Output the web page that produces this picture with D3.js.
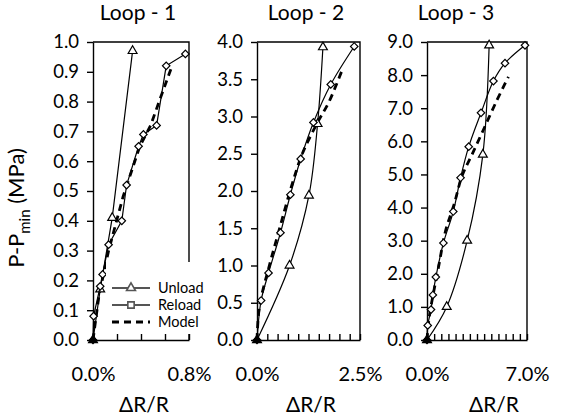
<!DOCTYPE html>
<html>
<head>
<meta charset="utf-8">
<script src="https://cdn.jsdelivr.net/npm/d3@7"></script>
<style>
  body { margin: 0; background: #fff; }
  text { font-family: Lato, "Open Sans", sans-serif; fill: #000; }
</style>
</head>
<body>
<svg id="chart" width="562" height="419"></svg>
<script>
// chart data (x in %, y in MPa)
var loopNames = ["Loop - 1", "Loop - 2", "Loop - 3"];
var xMaxes = [0.8, 2.5, 7.0];
var xSteps = [0.2, 0.25, 0.5];
var yMaxes = [1.0, 4.0, 9.0];
var ySteps = [0.1, 0.5, 1.0];

var unload1 = [[0,0],[0.06,0.17],[0.16,0.41],[0.33,0.97]];
var reload1 = [[0,0],[0.005,0.08],[0.06,0.18],[0.08,0.22],[0.13,0.32],[0.24,0.40],[0.28,0.52],
               [0.38,0.65],[0.42,0.69],[0.53,0.72],[0.61,0.92],[0.77,0.96]];
var model1  = [[0,0],[0.05,0.15],[0.13,0.30],[0.25,0.48],[0.39,0.65],[0.48,0.72],[0.56,0.81],[0.65,0.91]];

var unload2 = [[0,0],[0.79,1.0],[1.26,1.94],[1.47,2.9],[1.60,3.93]];
var reload2 = [[0,0],[0.1,0.53],[0.28,0.9],[0.57,1.44],[0.81,1.95],[1.06,2.43],[1.37,2.92],[1.79,3.43],[2.36,3.94]];
var model2  = [[0,0],[0.06,0.45],[0.3,1.0],[0.55,1.5],[0.83,2.05],[1.1,2.5],[1.45,2.9],[1.75,3.2],[2.05,3.6]];

var unload3 = [[0,0],[1.38,1.0],[2.81,3.0],[3.91,5.6],[4.35,8.9]];
var reload3 = [[0,0],[0.05,0.44],[0.28,0.92],[0.41,1.36],[0.62,1.9],[1.15,2.93],[1.84,3.88],[2.35,4.9],
               [2.92,5.84],[3.78,6.86],[4.65,7.82],[5.46,8.36],[6.86,8.9]];
var model3  = [[0,0],[0.16,0.7],[0.85,2.3],[1.3,3.3],[1.9,4.1],[2.45,4.95],[3.15,5.6],[3.95,6.35],[4.85,7.2],[5.7,7.95]];

var legendLabels = ["Unload", "Reload", "Model"];

var unloads = [unload1, unload2, unload3];
var reloads = [reload1, reload2, reload3];
var models = [model1, model2, model3];

// layout
var plotLeft = [93, 257, 427];
var plotRight = [189, 360, 527];
var plotTop = 42, plotBottom = 340;
var loopTitleX = [138, 306, 456];
var xTitleX = [144, 311, 494];

var svg = d3.select("#chart");
var fmtPct = d3.format(".1%");
var fmtY = d3.format(".1f");

loopNames.forEach(function(name, p) {
  var x = d3.scaleLinear().domain([0, xMaxes[p]]).range([plotLeft[p], plotRight[p]]);
  var y = d3.scaleLinear().domain([0, yMaxes[p]]).range([plotBottom, plotTop]);
  var g = svg.append("g");

  // plot-area border (top + right)
  g.append("path")
    .attr("d", "M" + plotLeft[p] + "," + plotTop + "H" + plotRight[p] + "V" + plotBottom)
    .attr("fill", "none").attr("stroke", "#000").attr("stroke-width", 1.4);

  var yTicks = d3.range(0, yMaxes[p] + ySteps[p] / 2, ySteps[p]);
  var yAxis = g.append("g")
    .attr("transform", "translate(" + plotLeft[p] + ",0)")
    .call(d3.axisLeft(y).tickValues(yTicks).tickSizeInner(6).tickSizeOuter(0)
      .tickPadding(8).tickFormat(fmtY));
  yAxis.selectAll("text").style("font-size", "18.5px");

  var xTicks = d3.range(0, xMaxes[p] + xSteps[p] / 2, xSteps[p]);
  g.append("g")
    .attr("transform", "translate(0," + plotBottom + ")")
    .call(d3.axisBottom(x).tickValues(xTicks).tickSizeInner(-6).tickSizeOuter(0).tickFormat(""));

  var xLab = g.append("g")
    .attr("transform", "translate(0," + plotBottom + ")")
    .call(d3.axisBottom(x).tickValues([0, xMaxes[p]]).tickSize(0).tickPadding(27)
      .tickFormat(function(d) { return fmtPct(d / 100); }));
  xLab.select(".domain").remove();
  xLab.selectAll("text").style("font-size", "20px");

  g.selectAll(".domain, .tick line").attr("stroke", "#000").attr("stroke-width", 1.4);

  g.append("text").attr("x", loopTitleX[p]).attr("y", 20)
    .attr("text-anchor", "middle").style("font-size", "21px").text(name);
  g.append("text").attr("x", xTitleX[p]).attr("y", 412)
    .attr("text-anchor", "middle").style("font-size", "21px").text("\u0394R/R");

  var curve = p === 0 ? d3.curveLinear : d3.curveCatmullRom.alpha(0.5);
  var line = d3.line().x(function(d) { return x(d[0]); }).y(function(d) { return y(d[1]); }).curve(curve);

  g.append("path").datum(models[p])
    .attr("d", line).attr("fill", "none").attr("stroke", "#000")
    .attr("stroke-width", 2.8).attr("stroke-dasharray", "7,5");

  [unloads[p], reloads[p]].forEach(function(series, s) {
    g.append("path").datum(series)
      .attr("d", line).attr("fill", "none").attr("stroke", "#000").attr("stroke-width", 1.2);
    var sym = s === 0 ? d3.symbol().type(d3.symbolTriangle).size(34)
                      : d3.symbol().type(d3.symbolSquare).size(28);
    g.selectAll(".m" + s).data(series).enter().append("path")
      .attr("d", sym)
      .attr("transform", function(d) {
        return "translate(" + x(d[0]) + "," + y(d[1]) + ")" + (s === 1 ? " rotate(45)" : "");
      })
      .attr("fill", function(d, i) { return i === 0 ? "#000" : "#fff"; })
      .attr("stroke", "#000").attr("stroke-width", 1.2);
  });
});

// legend inside loop 1
var leg = svg.append("g");
leg.append("rect").attr("x", 106).attr("y", 262).attr("width", 100).attr("height", 72).attr("fill", "#fff");
legendLabels.forEach(function(lbl, i) {
  var ly = 288 + i * 17;
  leg.append("line").attr("x1", 112).attr("x2", 150).attr("y1", ly).attr("y2", ly)
    .attr("stroke", i === 2 ? "#000" : "#555").attr("stroke-width", i === 2 ? 2.8 : 2)
    .attr("stroke-dasharray", i === 2 ? "7,5" : null);
  if (i < 2) {
    var sym = i === 0 ? d3.symbol().type(d3.symbolTriangle).size(34) : d3.symbol().type(d3.symbolSquare).size(40);
    leg.append("path").attr("d", sym).attr("transform", "translate(131," + ly + ")")
      .attr("fill", "#fff").attr("stroke", "#555").attr("stroke-width", 1.6);
  }
  leg.append("text").attr("x", 158).attr("y", ly + 5).style("font-size", "14.5px").text(lbl);
});

// y-axis title
var yt = svg.append("text")
  .attr("transform", "translate(24,208) rotate(-90)")
  .attr("text-anchor", "middle").style("font-size", "22px");
yt.append("tspan").text("P-P");
yt.append("tspan").attr("dy", 6).style("font-size", "15px").text("min");
yt.append("tspan").attr("dy", -6).text(" (MPa)");
</script>
</body>
</html>
